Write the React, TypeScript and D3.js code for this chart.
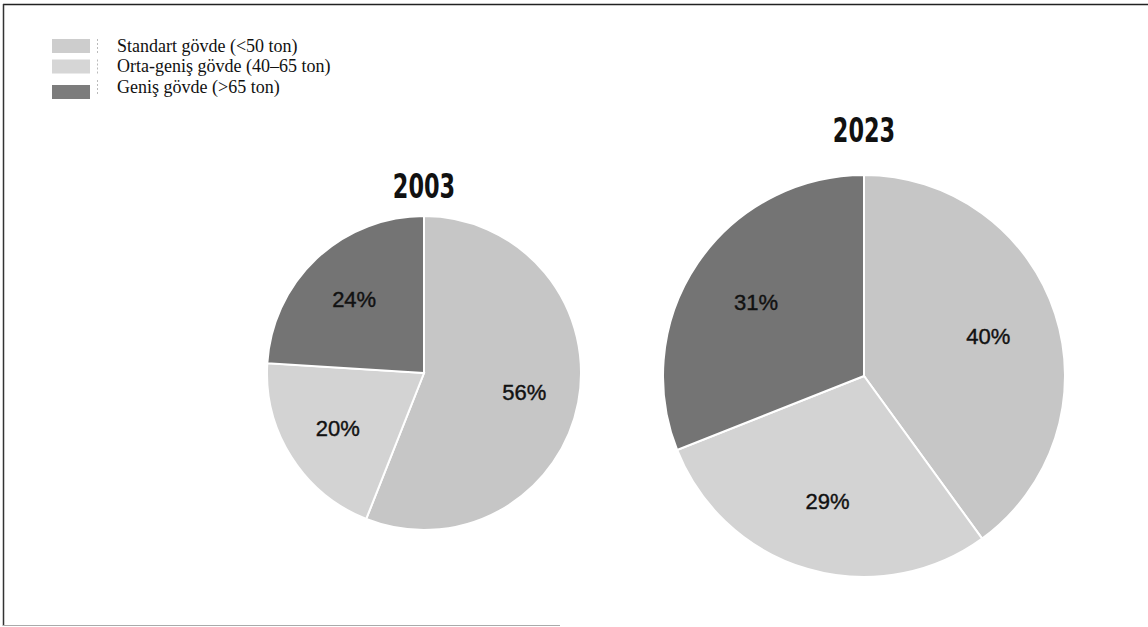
import React from "react";
import * as d3 from "d3";

// legend / categories
const categories = ["Standart gövde (<50 ton)", "Orta-geniş gövde (40–65 ton)", "Geniş gövde (>65 ton)"];
const years = ["2003", "2023"];
const shares2003 = [56, 20, 24];
const shares2023 = [40, 29, 31];

const sliceColors = ["#c6c6c6", "#d3d3d3", "#747474"];
const swatchColors = ["#cdcdcd", "#d6d6d6", "#7c7c7c"];

const W = 1148;
const H = 627;

type PieSpec = { year: string; values: number[]; cx: number; cy: number; r: number; titleY: number };

const pies: PieSpec[] = [
  { year: years[0], values: shares2003, cx: 424, cy: 373, r: 157, titleY: 198 },
  { year: years[1], values: shares2023, cx: 864, cy: 376, r: 201, titleY: 142 },
];

function Pie({ spec }: { spec: PieSpec }) {
  const pie = d3.pie<number>().sort(null).value(d => d);
  const arcs = pie(spec.values);
  const arc = d3.arc<d3.PieArcDatum<number>>().innerRadius(0).outerRadius(spec.r);
  const labelArc = d3.arc<d3.PieArcDatum<number>>().innerRadius(spec.r * 0.65).outerRadius(spec.r * 0.65);
  return (
    <g>
      {/* condensed bold year title */}
      <g transform={`translate(${spec.cx},${spec.titleY}) scale(0.68,1)`}>
        <text x={0} y={0} textAnchor="middle"
          style={{ fontFamily: "'DejaVu Sans', sans-serif", fontWeight: 700, fontSize: 33 }}
          fill="#111">{spec.year}</text>
      </g>
      <g transform={`translate(${spec.cx},${spec.cy})`}>
        {arcs.map((a, i) => (
          <path key={i} d={arc(a) || ""} fill={sliceColors[i]} stroke="#fff" strokeWidth={2} />
        ))}
        {arcs.map((a, i) => {
          const [x, y] = labelArc.centroid(a);
          return (
            <text key={"l" + i} x={x} y={y} dy="0.36em" textAnchor="middle"
              style={{ fontFamily: "'Liberation Sans', Arial, sans-serif", fontSize: 22 }}
              fill="#111" stroke="#111" strokeWidth={0.4}>
              {a.data}%
            </text>
          );
        })}
      </g>
    </g>
  );
}

export default function App() {
  const legendY = d3.scalePoint<string>().domain(categories).range([46, 87]);
  return (
    <svg width={W} height={H} viewBox={`0 0 ${W} ${H}`}
      style={{ position: "absolute", left: 0, top: 0, background: "#fff", display: "block" }}>
      {/* frame */}
      <line x1={3} x2={W} y1={4.5} y2={4.5} stroke="#222" strokeWidth={1.5} />
      <line x1={3.5} x2={3.5} y1={4} y2={H - 1} stroke="#333" strokeWidth={1.5} />
      <line x1={3} x2={560} y1={H - 1.5} y2={H - 1.5} stroke="#aaa" strokeWidth={1} />

      {/* legend */}
      {categories.map((c, i) => {
        const y = legendY(c) as number;
        return (
          <g key={c}>
            <rect x={52} y={y - 7 + (i === 2 ? 5 : 0)} width={38} height={14} fill={swatchColors[i]} />
            <line x1={97.5} x2={97.5} y1={y - 7} y2={y + 7} stroke="#bbb" strokeDasharray="2,2" />
            <text x={117} y={y} dy="0.33em"
              style={{ fontFamily: "'Liberation Serif', 'Times New Roman', serif", fontSize: 18 }}
              fill="#111">{c}</text>
          </g>
        );
      })}

      {pies.map(p => <Pie key={p.year} spec={p} />)}
    </svg>
  );
}
